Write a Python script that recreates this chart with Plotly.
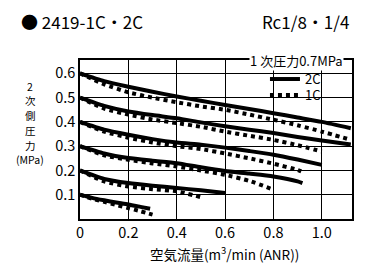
import plotly.graph_objects as go

FONT = "Noto Sans CJK JP"

# ---- data ----
flow_2c = [
    [0, 0.1, 0.2, 0.3, 0.4, 0.5, 0.6, 0.7, 0.8, 0.9, 1.0, 1.12],
    [0, 0.1, 0.2, 0.3, 0.4, 0.5, 0.6, 0.7, 0.8, 0.9, 1.0, 1.12],
    [0, 0.1, 0.2, 0.3, 0.4, 0.5, 0.6, 0.7, 0.8, 0.9, 1.0],
    [0, 0.1, 0.2, 0.3, 0.4, 0.5, 0.6, 0.7, 0.8, 0.9, 0.92],
    [0, 0.1, 0.2, 0.3, 0.4, 0.5, 0.6],
    [0, 0.05, 0.1, 0.15, 0.2, 0.25, 0.29],
]
pres_2c = [
    [0.6, 0.568, 0.545, 0.524, 0.505, 0.487, 0.47, 0.453, 0.436, 0.418, 0.40, 0.374],
    [0.5, 0.466, 0.443, 0.428, 0.415, 0.398, 0.382, 0.368, 0.354, 0.338, 0.323, 0.307],
    [0.4, 0.368, 0.347, 0.329, 0.315, 0.306, 0.294, 0.28, 0.265, 0.245, 0.223],
    [0.3, 0.27, 0.251, 0.24, 0.23, 0.213, 0.198, 0.187, 0.175, 0.155, 0.148],
    [0.2, 0.165, 0.148, 0.137, 0.128, 0.118, 0.107],
    [0.1, 0.087, 0.077, 0.068, 0.06, 0.05, 0.042],
]
flow_1c = [
    [0, 0.1, 0.2, 0.3, 0.4, 0.5, 0.6, 0.7, 0.8, 0.9, 1.0, 1.12],
    [0, 0.1, 0.2, 0.3, 0.4, 0.5, 0.6, 0.7, 0.8, 0.9, 1.0],
    [0, 0.1, 0.2, 0.3, 0.4, 0.5, 0.6, 0.7, 0.8, 0.9, 0.915],
    [0, 0.1, 0.2, 0.3, 0.4, 0.5, 0.6, 0.7, 0.8],
    [0, 0.1, 0.2, 0.3, 0.4, 0.5],
    [0, 0.05, 0.1, 0.15, 0.2, 0.25, 0.3],
]
pres_1c = [
    [0.6, 0.555, 0.522, 0.5, 0.481, 0.464, 0.45, 0.43, 0.409, 0.386, 0.36, 0.326],
    [0.5, 0.455, 0.43, 0.41, 0.395, 0.38, 0.36, 0.343, 0.326, 0.304, 0.278],
    [0.4, 0.36, 0.335, 0.315, 0.30, 0.288, 0.27, 0.25, 0.228, 0.202, 0.196],
    [0.3, 0.262, 0.244, 0.229, 0.216, 0.2, 0.182, 0.157, 0.121],
    [0.2, 0.155, 0.134, 0.123, 0.114, 0.09],
    [0.1, 0.084, 0.071, 0.058, 0.045, 0.032, 0.018],
]
series_names = ["2C", "1C"]
x_ticks = [0, 0.2, 0.4, 0.6, 0.8, 1.0]
x_tick_text = ["0", "0.2", "0.4", "0.6", "0.8", "1.0"]
y_ticks = [0.1, 0.2, 0.3, 0.4, 0.5, 0.6]
y_tick_text = ["0.1", "0.2", "0.3", "0.4", "0.5", "0.6"]
y_title_parts = ["2", "次", "側", "圧", "力", "(MPa)"]


def joined(groups):
    out = []
    for i, g in enumerate(groups):
        if i:
            out.append(None)
        out.extend(g)
    return out


fig = go.Figure()
fig.add_trace(go.Scatter(
    x=joined(flow_1c), y=joined(pres_1c), mode="lines", name=series_names[1],
    line=dict(color="black", width=4, dash="dot", shape="spline", smoothing=0.6),
    legend="legend2", connectgaps=False,
))
fig.add_trace(go.Scatter(
    x=joined(flow_2c), y=joined(pres_2c), mode="lines", name=series_names[0],
    line=dict(color="black", width=4, shape="spline", smoothing=0.6),
    legend="legend", connectgaps=False,
))

axis_common = dict(
    showline=True, linecolor="black", linewidth=1.5, mirror=True,
    showgrid=True, gridcolor="black", gridwidth=1, zeroline=False,
    ticks="", tickfont=dict(family=FONT, size=14.5, color="black"),
)
fig.update_xaxes(range=[0, 1.125], tickvals=x_ticks, ticktext=x_tick_text, **axis_common)
fig.update_yaxes(range=[0, 0.655], tickvals=y_ticks, ticktext=y_tick_text, **axis_common)

legend_common = dict(
    bgcolor="rgba(0,0,0,0)", borderwidth=0, xanchor="left", yanchor="middle",
    font=dict(family=FONT, size=13, color="black"), itemwidth=30,
)

annotations = [
    dict(text="● 2419-1C・2C", xref="paper", yref="paper", x=-0.225, y=1.245,
         xanchor="left", yanchor="middle", showarrow=False,
         font=dict(family=FONT, size=17, color="black")),
    dict(text="Rc1/8・1/4", xref="paper", yref="paper", x=0.995, y=1.245,
         xanchor="right", yanchor="middle", showarrow=False,
         font=dict(family=FONT, size=17, color="black")),
    dict(text="1 次圧力0.7MPa", xref="paper", yref="paper", x=0.795, y=0.995,
         xanchor="center", yanchor="middle", showarrow=False, bgcolor="white",
         borderpad=0, font=dict(family=FONT, size=13, color="black")),
    dict(text="空気流量(m<sup>3</sup>/min (ANR))", xref="paper", yref="paper",
         x=0.53, y=-0.215, xanchor="center", yanchor="middle", showarrow=False,
         font=dict(family=FONT, size=13.5, color="black")),
]
# vertical y-axis title, one line per character
y_title_rows = [86, 100, 115, 130, 145, 159]
for part, row in zip(y_title_parts, y_title_rows):
    annotations.append(dict(
        text=part, xref="paper", yref="paper",
        x=(30 - 80) / 272, y=(272 - 53 - row) / 159,
        xanchor="center", yanchor="middle", showarrow=False,
        font=dict(family=FONT, size=10.5, color="black")))

fig.update_layout(
    width=367, height=272,
    margin=dict(l=80, r=15, t=60, b=53),
    paper_bgcolor="white", plot_bgcolor="white",
    font=dict(family=FONT, color="black"),
    showlegend=True,
    legend=dict(x=0.68, y=0.88, **legend_common),
    legend2=dict(x=0.68, y=0.78, **legend_common),
    annotations=annotations,
)

fig.write_html("out.html")
